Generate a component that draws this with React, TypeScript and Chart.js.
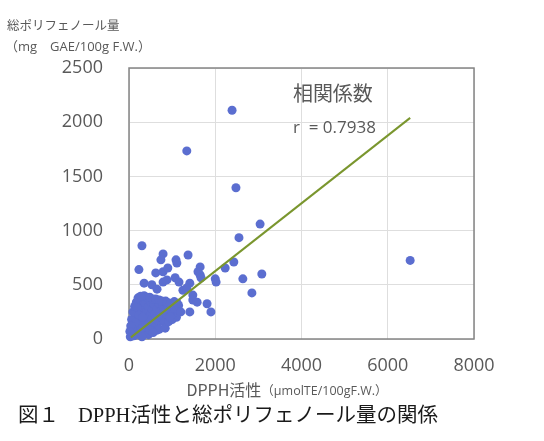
import React, { useEffect, useRef } from "react";
import { Chart, registerables } from "chart.js";

Chart.register(...registerables);

// DPPH activity (µmolTE/100gF.W.)
const dpphValues = [
  2390, 1340, 2480, 3040, 2550, 6520, 300, 2430, 2230, 3080, 2640, 2850, 1370, 790, 740,
  1090, 1110, 230, 620, 790, 900, 1650, 1600, 1650, 1670, 2000, 2020, 350, 530, 650,
  790, 880, 1070, 1160, 1410, 1250, 1340, 1480, 1480, 1580, 1810, 1900, 1410,
  30, 50, 80, 100, 120, 150, 160, 180, 200, 220, 240, 250, 260, 280, 300, 310, 330, 350,
  360, 380, 400, 420, 430, 450, 470, 490, 500, 520, 540, 560, 580, 600, 620, 650, 680,
  700, 720, 750, 780, 800, 820, 850, 870, 900, 940, 980, 1020, 1060, 1100, 1150, 1200,
  60, 90, 130, 170, 210, 190, 230, 270, 320, 70, 110, 140, 40, 20, 580, 640, 700, 400,
  450, 300, 350, 270, 480, 550, 620, 700, 760, 880, 960, 1050, 1120, 840, 920, 1000,
  490, 560, 950,
];
// Total polyphenol (mg GAE/100g F.W.)
const polyphenolValues = [
  2110, 1735, 1395, 1060, 935, 725, 860, 710, 655, 600, 555, 425, 775, 785, 730,
  730, 700, 640, 610, 620, 655, 665, 620, 590, 565, 555, 525, 515, 500, 460,
  525, 545, 565, 525, 515, 450, 470, 405, 360, 340, 325, 250, 250,
  20, 60, 30, 120, 80, 200, 40, 150, 260, 100, 320, 180, 60, 240, 350, 130, 280, 200,
  90, 330, 250, 160, 380, 300, 110, 220, 340, 180, 270, 140, 320, 230, 190, 280, 150,
  330, 250, 200, 310, 270, 160, 350, 230, 300, 260, 320, 240, 280, 200, 310, 250,
  180, 250, 300, 340, 380, 290, 220, 140, 200, 100, 30, 150, 120, 70, 100, 80, 90, 60,
  40, 20, 400, 395, 385, 370, 370, 360, 350, 340, 330, 345, 330, 100, 160, 180,
  80, 60, 205,
];

// Regression line end points
const trendX = [45, 6520];
const trendY = [15, 2040];

const xMin = 0;
const xMax = 8000;
const xStep = 2000;
const yMin = 0;
const yMax = 2500;
const yStep = 500;

const yTitleLines = ["総ポリフェノール量", "（mg　GAE/100g F.W.）"];
const xTitleMain = "DPPH活性";
const xTitleUnit = "（μmolTE/100gF.W.）";
const corrLabel = "相関係数";
const corrValue = "r  = 0.7938";
const captionNo = "図１";
const captionText = "DPPH活性と総ポリフェノール量の関係";

const SANS = '"Open Sans", "Noto Sans CJK JP", sans-serif';
const CJK = '"Noto Sans CJK JP", "Noto Sans", sans-serif';
const GRAY = "#595959";

const textPlugin = {
  id: "textPlugin",
  beforeDatasetsDraw(chart: any) {
    const { ctx, chartArea } = chart;
    ctx.save();
    ctx.strokeStyle = "#858585";
    ctx.lineWidth = 1.5;
    ctx.strokeRect(chartArea.left, chartArea.top, chartArea.right - chartArea.left, chartArea.bottom - chartArea.top);
    ctx.restore();
  },
  afterDraw(chart: any) {
    const { ctx, scales } = chart;
    ctx.save();
    ctx.textBaseline = "middle";
    ctx.textAlign = "left";
    ctx.fillStyle = GRAY;
    ctx.font = `12.5px ${CJK}`;
    ctx.fillText(yTitleLines[0], 7, 25);
    ctx.font = `13px ${SANS}`;
    ctx.fillText(yTitleLines[1], 5, 47);

    // x title
    ctx.font = `16px ${CJK}`;
    const wMain = ctx.measureText(xTitleMain).width;
    ctx.font = `12.5px ${SANS}`;
    const wUnit = ctx.measureText(xTitleUnit).width;
    const startX = 287 - (wMain + wUnit) / 2;
    ctx.font = `16px ${CJK}`;
    ctx.fillText(xTitleMain, startX, 390);
    ctx.font = `12.5px ${SANS}`;
    ctx.fillText(xTitleUnit, startX + wMain, 391);

    // correlation annotation
    const ax = scales.x.getPixelForValue(3800);
    ctx.font = `20px ${CJK}`;
    ctx.fillText(corrLabel, ax, scales.y.getPixelForValue(2270));
    ctx.font = `17px ${SANS}`;
    ctx.fillText(corrValue, ax, scales.y.getPixelForValue(1946));

    // caption
    ctx.fillStyle = "#1a1a1a";
    ctx.font = `20.5px "Liberation Serif", "Noto Sans CJK JP", serif`;
    ctx.fillText(captionNo, 18, 417);
    ctx.fillText(captionText, 78, 417);
    ctx.restore();
  },
};

export default function App() {
  const canvasRef = useRef<HTMLCanvasElement | null>(null);

  useEffect(() => {
    if (!canvasRef.current) return;
    const points = dpphValues.map((x, i) => ({ x, y: polyphenolValues[i] }));
    const trend = trendX.map((x, i) => ({ x, y: trendY[i] }));
    const chart = new Chart(canvasRef.current, {
      type: "scatter",
      data: {
        datasets: [
          {
            type: "line",
            data: trend,
            borderColor: "#7a962e",
            borderWidth: 2,
            pointRadius: 0,
            fill: false,
            clip: false,
          } as any,
          {
            type: "scatter",
            data: points,
            backgroundColor: "#5b6ed0",
            borderColor: "#5b6ed0",
            borderWidth: 0,
            pointRadius: 4.5,
            clip: false,
          } as any,
        ],
      },
      options: {
        responsive: false,
        animation: false,
        layout: { padding: { left: 0, right: 70, top: 68, bottom: 0 } },
        plugins: { legend: { display: false }, tooltip: { enabled: false } },
        scales: {
          x: {
            type: "linear",
            min: xMin,
            max: xMax,
            ticks: {
              stepSize: xStep,
              font: { size: 18, family: SANS },
              color: GRAY,
              padding: 16,
              callback: (v: any) => String(v),
            },
            grid: { color: "#dedede", drawTicks: false, lineWidth: 1 },
            border: { display: false },
            afterFit: (s: any) => {
              s.height = 102;
            },
          },
          y: {
            type: "linear",
            min: yMin,
            max: yMax,
            ticks: {
              stepSize: yStep,
              font: { size: 18, family: SANS },
              color: GRAY,
              padding: 26,
              callback: (v: any) => String(v),
            },
            grid: { color: "#dedede", drawTicks: false, lineWidth: 1 },
            border: { display: false },
            afterFit: (s: any) => {
              s.width = 129;
            },
          },
        },
      },
      plugins: [textPlugin],
    });
    return () => chart.destroy();
  }, []);

  return (
    <div style={{ position: "absolute", left: 0, top: 0, width: 544, height: 441, background: "#fff" }}>
      <canvas ref={canvasRef} width={544} height={441} style={{ display: "block" }} />
    </div>
  );
}
